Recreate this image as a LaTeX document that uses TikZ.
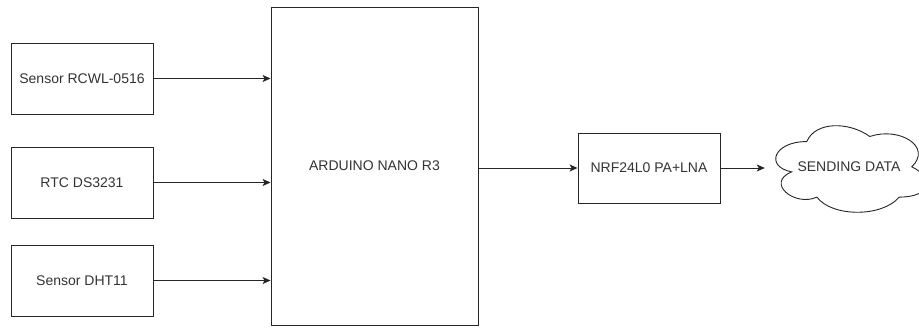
\documentclass[tikz,border=0pt]{standalone}
\usepackage{fontspec}
\setmainfont{Liberation Sans}
\usetikzlibrary{arrows.meta}
\definecolor{txt}{HTML}{333333}
\begin{document}
\begin{tikzpicture}[x=1pt,y=-1pt,
  lbl/.style={text=txt,font=\fontsize{14}{16}\selectfont},
  box/.style={lbl,draw=black!85,line width=0.9pt,minimum width=142pt,minimum height=71pt,inner sep=0pt},
  conn/.style={draw=black!85,line width=0.9pt,-{Stealth[length=8pt,width=7pt,inset=2pt]}},
  cloudline/.style={draw=black!85,line width=0.9pt}]
\useasboundingbox (0,0) rectangle (919,329);
\node[box] (s1) at (82,78.5) {Sensor RCWL-0516};
\node[box] (s2) at (82,182.5) {RTC DS3231};
\node[box] (s3) at (82,280.5) {Sensor DHT11};
\node[box,minimum width=207pt,minimum height=318pt] (ard) at (374.5,166) {ARDUINO NANO R3};
\node[box,minimum width=142pt,minimum height=70pt] (nrf) at (649,168) {NRF24L0 PA+LNA};
\node[lbl,minimum width=168pt,minimum height=101pt,inner sep=0pt] (cl) at (849,167) {};
\begin{scope}[shift={(cl.north west)},x=168pt,y=-101pt]
\draw[cloudline] (0.25,0.25)
  .. controls (0.05,0.25) and (0,0.5) .. (0.16,0.55)
  .. controls (0,0.66) and (0.18,0.9) .. (0.31,0.8)
  .. controls (0.4,1) and (0.7,1) .. (0.8,0.8)
  .. controls (1,0.8) and (1,0.6) .. (0.875,0.5)
  .. controls (1,0.3) and (0.8,0.1) .. (0.625,0.2)
  .. controls (0.5,0.05) and (0.3,0.05) .. (0.25,0.25) -- cycle;
\end{scope}
\node[lbl] at (cl.center) {SENDING DATA};
\coordinate (a1) at (ard.west |- s1.east);
\coordinate (a2) at (ard.west |- s2.east);
\coordinate (a3) at (ard.west |- s3.east);
\coordinate (cin) at (cl.west |- nrf.east);
\draw[conn] (s1.east) -- (a1);
\draw[conn] (s2.east) -- (a2);
\draw[conn] (s3.east) -- (a3);
\draw[conn] (ard.east |- nrf.west) -- (nrf.west);
\draw[conn] (nrf.east) -- (cin);
\end{tikzpicture}
\end{document}
